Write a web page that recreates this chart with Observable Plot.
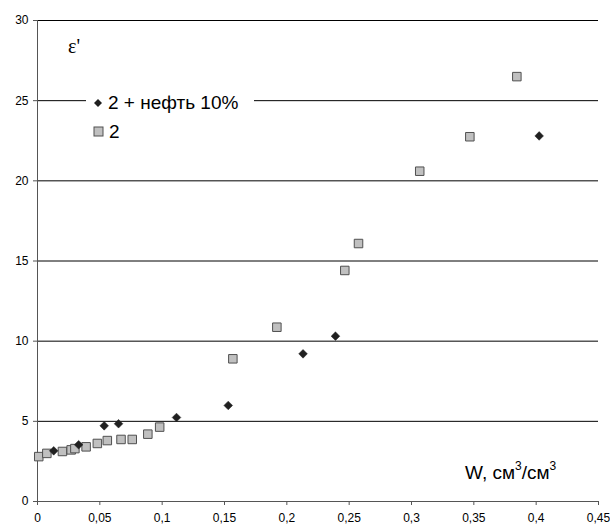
<!DOCTYPE html>
<html><head><meta charset="utf-8">
<script src="https://cdn.jsdelivr.net/npm/d3@7"></script>
<script src="https://cdn.jsdelivr.net/npm/@observablehq/plot@0.6"></script>
<style>
body{margin:0;background:#fff;}
#wrap{position:relative;width:610px;height:526px;}
#legend{position:absolute;left:86px;top:91px;width:168px;height:54px;background:#fff;font:19px Arial,"Liberation Sans",sans-serif;color:#000;}
#legend .row{position:absolute;left:7px;height:24px;line-height:24px;white-space:nowrap;}
#legend svg{vertical-align:middle;margin-right:5px;position:relative;top:-1px;}
#xlab{position:absolute;left:465px;top:456px;font:19px Arial,"Liberation Sans",sans-serif;white-space:nowrap;line-height:24px;}
#xlab sup{font-size:12px;position:relative;top:-2px;}
#ylab{position:absolute;left:68px;top:35px;font:20px "Liberation Serif","Times New Roman",serif;}
</style>
</head><body>
<div id="wrap"><div id="chart"></div>
<div id="legend"></div><div id="xlab"></div><div id="ylab"></div></div>
<script>
const seriesNames = ["2 + нефть 10%", "2"];
const oilX = [0.013, 0.033, 0.0535, 0.065, 0.1115, 0.153, 0.213, 0.239, 0.4024];
const oilY = [3.16, 3.54, 4.72, 4.85, 5.24, 5.99, 9.21, 10.31, 22.8];
const baseX = [0.001, 0.0075, 0.020, 0.027, 0.030, 0.039, 0.048, 0.056, 0.067, 0.076, 0.0885, 0.098, 0.1567, 0.192, 0.2465, 0.2575, 0.3066, 0.3468, 0.3845];
const baseY = [2.8, 3.0, 3.12, 3.22, 3.3, 3.41, 3.62, 3.8, 3.87, 3.87, 4.2, 4.64, 8.9, 10.87, 14.41, 16.09, 20.6, 22.75, 26.5];
const xTicks = [0, 0.05, 0.1, 0.15, 0.2, 0.25, 0.3, 0.35, 0.4, 0.45];
const yTicks = [0, 5, 10, 15, 20, 25, 30];
const yLabel = "ε'";
const xLabelHTML = "W, см<sup>3</sup>/см<sup>3</sup>";

const oil = oilX.map((x, i) => ({x, y: oilY[i]}));
const base = baseX.map((x, i) => ({x, y: baseY[i]}));
const fmt = d => String(d).replace(".", ",");

const chart = Plot.plot({
  width: 610, height: 526,
  marginLeft: 37, marginRight: 12, marginTop: 20, marginBottom: 25,
  style: {fontFamily: 'Arial, "Liberation Sans", sans-serif', fontSize: "12px", color: "#000", background: "#fff"},
  x: {domain: [0, 0.45], label: null},
  y: {domain: [0, 30], label: null},
  marks: [
    Plot.ruleY(yTicks.filter(d => d > 0), {stroke: "#000", strokeWidth: 1}),
    Plot.ruleX([0], {stroke: "#555"}),
    Plot.ruleY([0], {stroke: "#555"}),
    Plot.axisX({ticks: xTicks, tickSize: 4, tickPadding: 8, stroke: "#555", tickFormat: fmt}),
    Plot.axisY({ticks: yTicks, tickSize: 4, tickPadding: 5, stroke: "#555"}),
    Plot.dot(base, {x: "x", y: "y", symbol: "square", r: 4.8, fill: "#c0c0c0", stroke: "#505050", strokeWidth: 1}),
    Plot.dot(oil, {x: "x", y: "y", symbol: "diamond2", r: 3.9, fill: "#202020", stroke: "#202020", strokeWidth: 0.5})
  ]
});
document.getElementById("chart").appendChild(chart);

document.getElementById("xlab").innerHTML = xLabelHTML;
document.getElementById("ylab").textContent = yLabel;

const leg = document.getElementById("legend");
const sym = [
  '<svg width="10" height="10"><path d="M5,1L9,5L5,9L1,5Z" fill="#202020"/></svg>',
  '<svg width="11" height="11"><rect x="1" y="1" width="9" height="9" fill="#c0c0c0" stroke="#505050"/></svg>'
];
seriesNames.forEach((n, i) => {
  const r = document.createElement("div");
  r.className = "row";
  r.style.top = (i === 0 ? 0 : 29) + "px";
  r.innerHTML = sym[i] + '<span>' + n + '</span>';
  leg.appendChild(r);
});
</script>
</body></html>
